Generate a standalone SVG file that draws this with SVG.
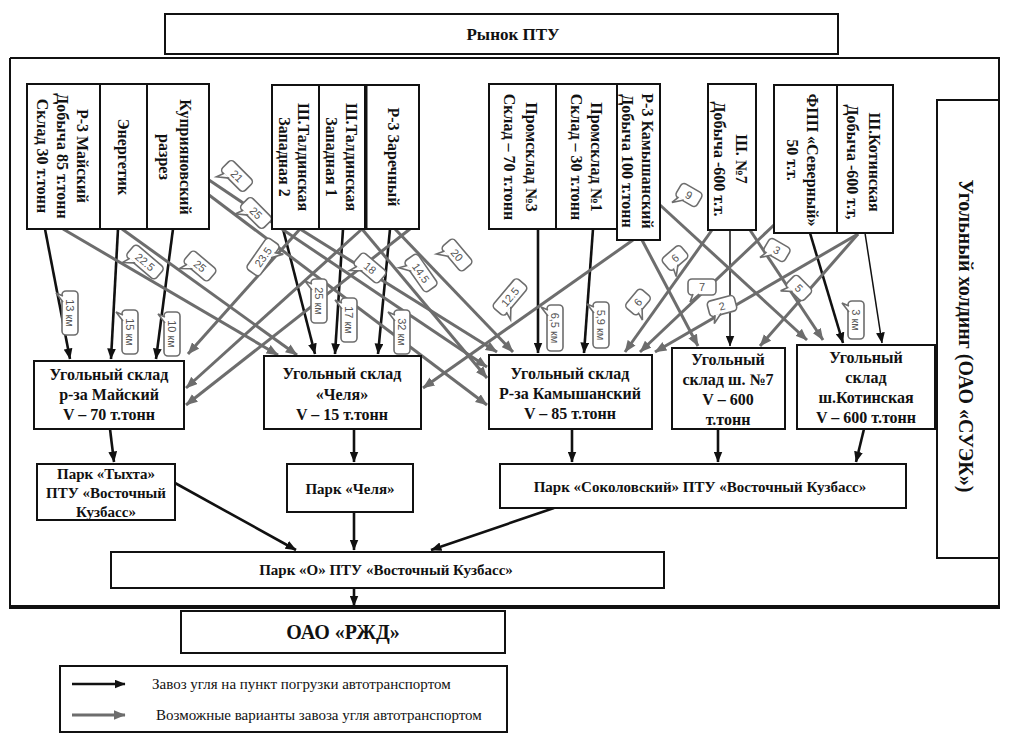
<svg xmlns="http://www.w3.org/2000/svg" width="1009" height="733" viewBox="0 0 1009 733">
<defs>
<marker id="ab" viewBox="0 0 10 8" refX="9.5" refY="4" markerWidth="11" markerHeight="9" markerUnits="userSpaceOnUse" orient="auto"><path d="M0,0 L10,4 L0,8 Z" fill="#111"/></marker>
<marker id="ag" viewBox="0 0 10 8" refX="9.5" refY="4" markerWidth="12" markerHeight="10" markerUnits="userSpaceOnUse" orient="auto"><path d="M0,0 L10,4 L0,8 Z" fill="#6d6d6d"/></marker>
</defs>
<style>
.box{fill:#fff;stroke:#111;stroke-width:2}
.t{font-family:"Liberation Serif","Times New Roman",serif;font-weight:bold;fill:#111;font-size:16px;text-anchor:middle;dominant-baseline:central}
.bl{stroke:#111;stroke-width:2.6;fill:none;marker-end:url(#ab)}
.bt1{stroke:#111;stroke-width:1.5;fill:none;marker-end:url(#ab)}
.gl{stroke:#6d6d6d;stroke-width:3;fill:none;marker-end:url(#ag)}
.bd{fill:#fff;stroke:#6d6d6d;stroke-width:1.6}
.bx{font-family:"Liberation Sans",Arial,sans-serif;font-size:11px;fill:#555;text-anchor:middle;dominant-baseline:central}
.lg{font-family:"Liberation Serif","Times New Roman",serif;font-size:15px;fill:#111;dominant-baseline:central}
</style>
<rect x="0" y="0" width="1009" height="733" fill="#fff"/>

<g id="frame">
<path d="M10,58 H999 V607" fill="none" stroke="#111" stroke-width="2"/>
<path d="M10,58 V607" fill="none" stroke="#111" stroke-width="2"/>
<path d="M9,607 H1000" fill="none" stroke="#111" stroke-width="4"/>
</g>

<g id="connectors">
<path class="bl" d="M45,229 L70,359"/>
<path class="bl" d="M118,229 L111,359"/>
<path class="bl" d="M173,229 L156,359"/>
<path class="bl" d="M283,229 L315,354"/>
<path class="bl" d="M343,229 L335,354"/>
<path class="bl" d="M390,229 L378,354"/>
<path class="bl" d="M538,229 L538,353"/>
<path class="bl" d="M593,229 L584,353"/>
<path class="bt1" d="M730,230 L730,346"/>
<path class="bl" d="M810,233 L843,343"/>
<path class="bt1" d="M865,233 L882,343"/>
<path class="bl" d="M110,429 L114,462"/>
<path class="bl" d="M354,429 L354,462"/>
<path class="bl" d="M572,429 L572,462"/>
<path class="bl" d="M718,429 L718,462"/>
<path class="bl" d="M864,429 L856,462"/>
<path class="bl" d="M175,483 L296,550"/>
<path class="bl" d="M354,512 L354,550"/>
<path class="bl" d="M554,508 L431,550"/>
<path class="bl" d="M354,588 L354,606"/>
<path class="gl" d="M63,229 L278,355"/>
<path class="gl" d="M122,229 L297,355"/>
<path class="gl" d="M209,180 L487,367"/>
<path class="gl" d="M209,195 L487,405"/>
<path class="gl" d="M300,229 L188,354"/>
<path class="gl" d="M362,229 L186,388"/>
<path class="gl" d="M410,229 L186,405"/>
<path class="gl" d="M300,229 L497,352"/>
<path class="gl" d="M362,229 L487,378"/>
<path class="gl" d="M395,229 L513,352"/>
<path class="gl" d="M633,240 L423,388"/>
<path class="gl" d="M660,205 L807,340"/>
<path class="gl" d="M642,240 L698,346"/>
<path class="gl" d="M712,230 L625,352"/>
<path class="gl" d="M750,230 L823,340"/>
<path class="gl" d="M774,225 L640,352"/>
<path class="gl" d="M858,234 L760,346"/>
<path class="gl" d="M858,234 L655,352"/>
<g transform="translate(145 262) rotate(40)"><rect class="bd" x="-19" y="-8" width="38" height="16" rx="4"/><path class="bd" d="M-14,7 L-17,15 L-7,7"/><text class="bx">22.5</text></g>
<g transform="translate(200 266) rotate(40)"><rect class="bd" x="-16" y="-8" width="32" height="16" rx="4"/><path class="bd" d="M-11,7 L-14,15 L-4,7"/><text class="bx">25</text></g>
<g transform="translate(237 176) rotate(45)"><rect class="bd" x="-16" y="-8" width="32" height="16" rx="4"/><path class="bd" d="M-11,7 L-14,15 L-4,7"/><text class="bx">21</text></g>
<g transform="translate(256 213) rotate(45)"><rect class="bd" x="-16" y="-8" width="32" height="16" rx="4"/><path class="bd" d="M-11,7 L-14,15 L-4,7"/><text class="bx">25</text></g>
<g transform="translate(263 257) rotate(-55)"><rect class="bd" x="-19" y="-8" width="38" height="16" rx="4"/><path class="bd" d="M10,7 L14,15 L4,7"/><text class="bx">23.5</text></g>
<g transform="translate(370 268) rotate(40)"><rect class="bd" x="-16" y="-8" width="32" height="16" rx="4"/><path class="bd" d="M-11,7 L-14,15 L-4,7"/><text class="bx">18</text></g>
<g transform="translate(421 273) rotate(55)"><rect class="bd" x="-19" y="-8" width="38" height="16" rx="4"/><path class="bd" d="M-14,7 L-17,15 L-7,7"/><text class="bx">14.5</text></g>
<g transform="translate(457 255) rotate(50)"><rect class="bd" x="-16" y="-8" width="32" height="16" rx="4"/><path class="bd" d="M-11,7 L-14,15 L-4,7"/><text class="bx">20</text></g>
<g transform="translate(510 297) rotate(-50)"><rect class="bd" x="-19" y="-8" width="38" height="16" rx="4"/><path class="bd" d="M-14,7 L-17,15 L-7,7"/><text class="bx">12.5</text></g>
<g transform="translate(689 195) rotate(30)"><rect class="bd" x="-12" y="-8" width="24" height="16" rx="4"/><path class="bd" d="M-8,7 L-11,15 L-2,7"/><text class="bx">9</text></g>
<g transform="translate(675 258) rotate(-40)"><rect class="bd" x="-12" y="-8" width="24" height="16" rx="4"/><path class="bd" d="M-8,7 L-11,15 L-2,7"/><text class="bx">6</text></g>
<g transform="translate(638 302) rotate(-50)"><rect class="bd" x="-12" y="-8" width="24" height="16" rx="4"/><path class="bd" d="M-8,7 L-11,15 L-2,7"/><text class="bx">6</text></g>
<g transform="translate(702 287)"><rect class="bd" x="-14" y="-8" width="28" height="16" rx="4"/><path class="bd" d="M-9,7 L-12,15 L-3,7"/><text class="bx">7</text></g>
<g transform="translate(722 306) rotate(-15)"><rect class="bd" x="-14" y="-8" width="28" height="16" rx="4"/><path class="bd" d="M-9,7 L-12,15 L-3,7"/><text class="bx">2</text></g>
<g transform="translate(777 250) rotate(30)"><rect class="bd" x="-12" y="-8" width="24" height="16" rx="4"/><path class="bd" d="M-8,7 L-11,15 L-2,7"/><text class="bx">3</text></g>
<g transform="translate(799 288) rotate(45)"><rect class="bd" x="-12" y="-8" width="24" height="16" rx="4"/><path class="bd" d="M-8,7 L-11,15 L-2,7"/><text class="bx">5</text></g>
<g transform="translate(70 313) rotate(90)"><rect class="bd" x="-22" y="-8" width="44" height="16" rx="4"/><path class="bd" d="M-17,7 L-20,14 L-11,7"/><text class="bx">13 км</text></g>
<g transform="translate(130 332) rotate(90)"><rect class="bd" x="-22" y="-8" width="44" height="16" rx="4"/><path class="bd" d="M-17,7 L-20,14 L-11,7"/><text class="bx">15 км</text></g>
<g transform="translate(172 334) rotate(90)"><rect class="bd" x="-22" y="-8" width="44" height="16" rx="4"/><path class="bd" d="M-17,7 L-20,14 L-11,7"/><text class="bx">10 км</text></g>
<g transform="translate(319 301) rotate(90)"><rect class="bd" x="-22" y="-8" width="44" height="16" rx="4"/><path class="bd" d="M-17,7 L-20,14 L-11,7"/><text class="bx">25 км</text></g>
<g transform="translate(349 320) rotate(90)"><rect class="bd" x="-22" y="-8" width="44" height="16" rx="4"/><path class="bd" d="M-17,7 L-20,14 L-11,7"/><text class="bx">17 км</text></g>
<g transform="translate(402 332) rotate(90)"><rect class="bd" x="-22" y="-8" width="44" height="16" rx="4"/><path class="bd" d="M-17,7 L-20,14 L-11,7"/><text class="bx">32 км</text></g>
<g transform="translate(555 328) rotate(90)"><rect class="bd" x="-23" y="-8" width="46" height="16" rx="4"/><path class="bd" d="M-18,7 L-21,14 L-12,7"/><text class="bx">6,5 км</text></g>
<g transform="translate(601 325) rotate(90)"><rect class="bd" x="-23" y="-8" width="46" height="16" rx="4"/><path class="bd" d="M-18,7 L-21,14 L-12,7"/><text class="bx">5,9 км</text></g>
<g transform="translate(856 320) rotate(90)"><rect class="bd" x="-19" y="-8" width="38" height="16" rx="4"/><path class="bd" d="M-14,7 L-17,14 L-8,7"/><text class="bx">3 км</text></g>
</g>

<g id="market"><rect class="box" x="165" y="14" width="673" height="40"/><text class="t" x="513" y="34" style="font-size:17px">Рынок ПТУ</text></g>

<g id="holding"><rect class="box" x="937" y="100" width="62" height="458"/><text class="t" transform="rotate(90 966 336)" x="966" y="336" style="font-size:20px">Угольный холдинг (ОАО «СУЭК»)</text></g>

<g id="s1"><rect class="box" x="27" y="84" width="73" height="145"/><text class="t" transform="rotate(90 63 156)" x="63" y="156"><tspan x="63" dy="-20">Р-3 Майский</tspan><tspan x="63" dy="20">Добыча 85 т.тонн</tspan><tspan x="63" dy="20">Склад 30 т.тонн</tspan></text></g>
<g id="s2"><rect class="box" x="100" y="84" width="47" height="145"/><text class="t" transform="rotate(90 123.5 157)" x="123.5" y="157">Энергетик</text></g>
<g id="s3"><rect class="box" x="147" y="84" width="62" height="145"/><text class="t" transform="rotate(90 175 157)" x="175" y="157"><tspan x="175" dy="-10.5">Куприяновский</tspan><tspan x="175" dy="21">разрез</tspan></text></g>
<g id="s4"><rect class="box" x="272" y="85" width="47" height="144"/><text class="t" transform="rotate(90 294.5 157)" x="294.5" y="157"><tspan x="294.5" dy="-9.5">Ш.Талдинская</tspan><tspan x="294.5" dy="19">Западная 2</tspan></text></g>
<g id="s5"><rect class="box" x="319" y="85" width="46" height="144"/><text class="t" transform="rotate(90 342 157)" x="342" y="157"><tspan x="342" dy="-10">Ш.Талдинская</tspan><tspan x="342" dy="20">Западная 1</tspan></text></g>
<g id="s6"><rect class="box" x="365" y="85" width="54" height="144"/><line x1="366" y1="85" x2="366" y2="229" stroke="#111" stroke-width="3"/><text class="t" transform="rotate(90 393 157)" x="393" y="157">Р-3  Заречный</text></g>
<g id="s7"><rect class="box" x="489" y="84" width="67" height="145"/><text class="t" transform="rotate(90 521 157)" x="521" y="157"><tspan x="521" dy="-11">Промсклад №3</tspan><tspan x="521" dy="22">Склад – 70 т.тонн</tspan></text></g>
<g id="s8"><rect class="box" x="556" y="84" width="61" height="145"/><text class="t" transform="rotate(90 587 157)" x="587" y="157"><tspan x="587" dy="-10">Промсклад №1</tspan><tspan x="587" dy="20">Склад – 30 т.тонн</tspan></text></g>
<g id="s9"><rect class="box" x="617" y="84" width="43" height="156"/><text class="t" transform="rotate(90 638 161)" x="638" y="161"><tspan x="638" dy="-10">Р-3 Камышанский</tspan><tspan x="638" dy="20">Добыча 100 т.тонн</tspan></text></g>
<g id="s10"><rect class="box" x="708" y="84" width="48" height="146"/><text class="t" transform="rotate(90 731 159)" x="731" y="159"><tspan x="731" dy="-11">Ш. №7</tspan><tspan x="731" dy="22">Добыча -600 т.т.</tspan></text></g>
<g id="s11"><rect class="box" x="774" y="85" width="63" height="148"/><text class="t" transform="rotate(90 803 160)" x="803" y="160"><tspan x="803" dy="-10">ФПП «Северный»</tspan><tspan x="803" dy="20">50 т.т.</tspan></text></g>
<g id="s12"><rect class="box" x="837" y="85" width="56" height="148"/><text class="t" transform="rotate(90 864 162)" x="864" y="162"><tspan x="864" dy="-11">Ш.Котинская</tspan><tspan x="864" dy="22">Добыча -600 т.т,</tspan></text></g>

<g id="w1"><rect class="box" x="34" y="361" width="150" height="68"/><text class="t" x="109" y="374"><tspan x="109">Угольный склад</tspan><tspan x="109" dy="20">р-за Майский</tspan><tspan x="109" dy="20">V – 70 т.тонн</tspan></text></g>
<g id="w2"><rect class="box" x="264" y="356" width="157" height="73"/><text class="t" x="342" y="373"><tspan x="342">Угольный склад</tspan><tspan x="342" dy="21">«Челя»</tspan><tspan x="342" dy="20">V – 15 т.тонн</tspan></text></g>
<g id="w3"><rect class="box" x="489" y="355" width="163" height="74"/><text class="t" x="570" y="373"><tspan x="570">Угольный склад</tspan><tspan x="570" dy="20">Р-за Камышанский</tspan><tspan x="570" dy="20">V – 85 т.тонн</tspan></text></g>
<g id="w4"><rect class="box" x="672" y="348" width="113" height="81"/><text class="t" x="728" y="359"><tspan x="728">Угольный</tspan><tspan x="728" dy="20">склад ш. №7</tspan><tspan x="728" dy="20">V – 600</tspan><tspan x="728" dy="20">т.тонн</tspan></text></g>
<g id="w5"><rect class="box" x="797" y="345" width="138" height="84"/><text class="t" x="866" y="357"><tspan x="866">Угольный</tspan><tspan x="866" dy="20">склад</tspan><tspan x="866" dy="20">ш.Котинская</tspan><tspan x="866" dy="20">V – 600 т.тонн</tspan></text></g>

<g id="p1"><rect class="box" x="37" y="464" width="138" height="56"/><text class="t" x="106" y="474" style="font-size:15px"><tspan x="106">Парк «Тыхта»</tspan><tspan x="106" dy="19">ПТУ «Восточный</tspan><tspan x="106" dy="19">Кузбасс»</tspan></text></g>
<g id="p2"><rect class="box" x="287" y="464" width="126" height="48"/><text class="t" x="350" y="489" style="font-size:15px">Парк «Челя»</text></g>
<g id="p3"><rect class="box" x="500" y="464" width="406" height="44"/><text class="t" x="700" y="487" style="font-size:15px">Парк «Соколовский» ПТУ «Восточный Кузбасс»</text></g>
<g id="p4"><rect class="box" x="111" y="552" width="553" height="36"/><text class="t" x="386" y="570" style="font-size:15px">Парк «О» ПТУ «Восточный Кузбасс»</text></g>

<g id="rzd"><rect class="box" x="181" y="611" width="324" height="42"/><text class="t" x="343" y="632" style="font-size:20px">ОАО «РЖД»</text></g>

<g id="legend">
<rect x="60" y="666" width="447" height="66" fill="#fff" stroke="#111" stroke-width="2"/>
<path class="bl" d="M72,684 L125,684"/>
<text class="lg" x="152" y="684">Завоз угля на пункт погрузки автотранспортом</text>
<path class="gl" d="M72,715 L125,715"/>
<text class="lg" x="156" y="715">Возможные варианты завоза угля автотранспортом</text>
</g>
</svg>
